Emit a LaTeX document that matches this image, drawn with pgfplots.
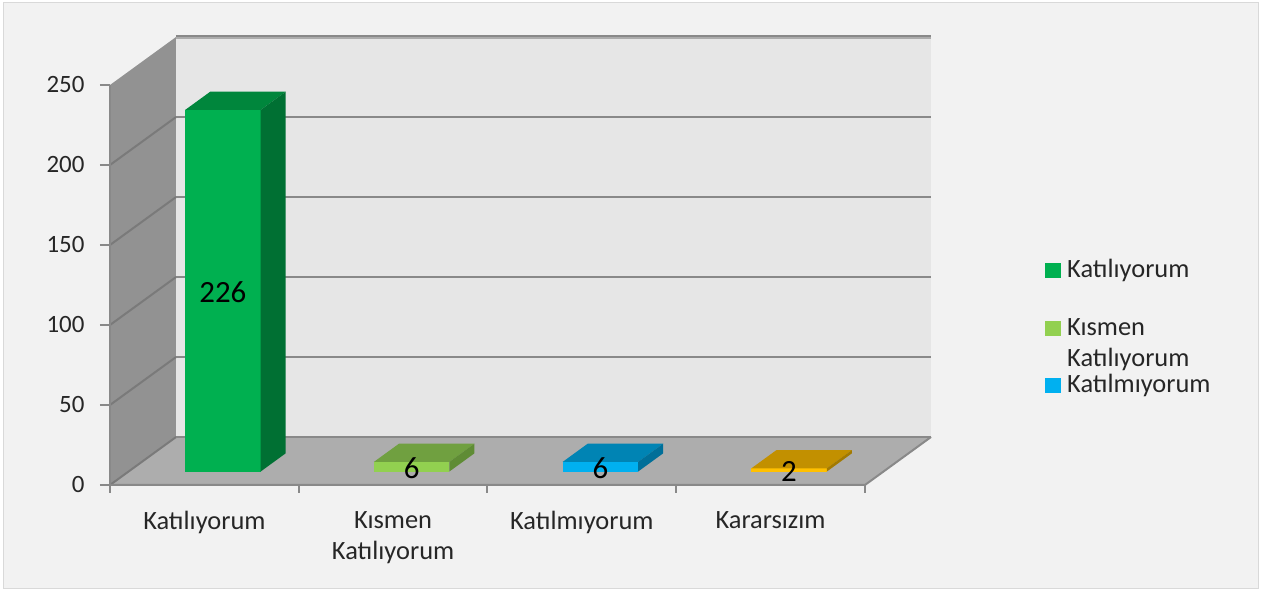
\documentclass[border=0pt]{standalone}
\usepackage{fontspec}
\setmainfont{Carlito}
\usepackage{pgfplots}
\usepackage{pgfplotstable}
\pgfplotsset{compat=1.18}

\definecolor{bgc}{HTML}{F2F2F2}
\definecolor{framec}{HTML}{D9D9D9}
\definecolor{backc}{HTML}{E6E6E6}
\definecolor{sidec}{HTML}{929292}
\definecolor{floorc}{HTML}{ADADAD}
\definecolor{gridc}{HTML}{898989}
\definecolor{sgridc}{HTML}{7A7A7A}
% bar colours: front / top / side
\definecolor{gA}{HTML}{00B050}\definecolor{gAt}{HTML}{00863C}\definecolor{gAs}{HTML}{007033}
\definecolor{gB}{HTML}{92D050}\definecolor{gBt}{HTML}{70A040}\definecolor{gBs}{HTML}{5F8C35}
\definecolor{gC}{HTML}{00B0F0}\definecolor{gCt}{HTML}{0084B4}\definecolor{gCs}{HTML}{006F99}
\definecolor{gD}{HTML}{FFC000}\definecolor{gDt}{HTML}{C29000}\definecolor{gDs}{HTML}{A37A00}

\newcommand\tf{\fontsize{26.5}{31}\selectfont}
\newcommand\yf{\fontsize{25}{30}\selectfont}

% one 3D bar: centre, value, front, top, side colour
\newcommand\cube[5]{%
  \pgfmathsetmacro\xl{#1-0.2+0.098}\pgfmathsetmacro\xr{#1+0.2+0.098}%
  \pgfmathsetmacro\xL{#1-0.2+0.231}\pgfmathsetmacro\xR{#1+0.2+0.231}%
  \pgfmathsetmacro\yt{#2+8.4}\pgfmathsetmacro\yT{#2+19.8}%
  \edef\tmp{%
    \noexpand\addplot[fill=#3,draw=none] coordinates {(\xl,8.4) (\xr,8.4) (\xr,\yt) (\xl,\yt)} -- cycle;
    \noexpand\addplot[fill=#4,draw=none] coordinates {(\xl,\yt) (\xr,\yt) (\xR,\yT) (\xL,\yT)} -- cycle;
    \noexpand\addplot[fill=#5,draw=none] coordinates {(\xr,8.4) (\xR,19.8) (\xR,\yT) (\xr,\yt)} -- cycle;
  }\tmp
}

\pgfplotstableread{
x v
0.5 226
1.5 6
2.5 6
3.5 2
}\data

\begin{document}
\begin{tikzpicture}
\fill[white] (0,0) rectangle (1261bp,592bp);
\fill[bgc,draw=framec,line width=1bp] (3bp,3bp) rectangle (1258bp,589bp);
\begin{axis}[
  at={(110bp,107bp)}, anchor=south west,
  width=821bp, height=448bp, scale only axis,
  xmin=0, xmax=4.35, ymin=0, ymax=280,
  clip=false,
  axis x line*=bottom, axis y line*=left,
  axis line style={draw=none},
  tick align=outside,
  ytick={0,50,...,250},
  xtick={0.5,1.5,2.5,3.5},
  xticklabels={Katılıyorum,{Kısmen\\Katılıyorum},Katılmıyorum,Kararsızım},
  minor xtick={0,1,2,3,4},
  major tick length=10bp, minor tick length=8bp,
  major x tick style={draw=none},
  minor x tick style={draw=gridc,line width=2bp},
  major y tick style={draw=gridc,line width=2bp},
  xticklabel style={font=\tf,align=center,text=black!85,yshift=-13bp},
  yticklabel style={font=\yf,text=black!85,xshift=-12bp},
  /pgf/number format/assume math mode=true,
]
% walls and floor
\addplot[fill=sidec,draw=none] coordinates {(0,0) (0,250) (0.35,280) (0.35,30)} -- cycle;
\addplot[fill=backc,draw=none] coordinates {(0.35,30) (4.35,30) (4.35,280) (0.35,280)} -- cycle;
\addplot[fill=floorc,draw=none] coordinates {(0,0) (4,0) (4.35,30) (0.35,30)} -- cycle;
% grid lines
\addplot[sgridc,line width=2bp] coordinates {(0,0) (0.35,30)};
\addplot[sgridc,line width=2bp] coordinates {(0,50) (0.35,80)};
\addplot[sgridc,line width=2bp] coordinates {(0,100) (0.35,130)};
\addplot[sgridc,line width=2bp] coordinates {(0,150) (0.35,180)};
\addplot[sgridc,line width=2bp] coordinates {(0,200) (0.35,230)};
\addplot[gridc,line width=2bp] coordinates {(0.35,30) (4.35,30)};
\addplot[gridc,line width=2bp] coordinates {(0.35,80) (4.35,80)};
\addplot[gridc,line width=2bp] coordinates {(0.35,130) (4.35,130)};
\addplot[gridc,line width=2bp] coordinates {(0.35,180) (4.35,180)};
\addplot[gridc,line width=2bp] coordinates {(0.35,230) (4.35,230)};
\addplot[gridc!70,line width=4bp] coordinates {(0.35,280) (4.35,280)};
\addplot[gridc,line width=2bp] coordinates {(0.35,280.6) (4.35,280.6)};
\addplot[gridc,line width=1.5bp] coordinates {(0,0) (0,250)};
\addplot[gridc,line width=2bp] coordinates {(0,0) (4,0) (4.35,30)};
% bars
\cube{0.5}{226}{gA}{gAt}{gAs}
\cube{1.5}{6}{gB}{gBt}{gBs}
\cube{2.5}{6}{gC}{gCt}{gCs}
\cube{3.5}{2}{gD}{gDt}{gDs}
% value labels
\addplot[draw=none,nodes near coords,point meta=\thisrow{v},
  nodes near coords align={center},
  every node near coord/.style={font=\fontsize{31}{36}\selectfont,text=black}]
  table[x expr=\thisrow{x}+0.098, y expr=\thisrow{v}/2+7.4] {\data};
\end{axis}
% legend
\fill[gA] (1045bp,314bp) rectangle (1061bp,329bp);
\fill[gB] (1045bp,256bp) rectangle (1061bp,271bp);
\fill[gC] (1045bp,199bp) rectangle (1061bp,214bp);
\node[font=\tf,anchor=base west,inner sep=0pt,text=black!85] at (1067bp,314bp) {Katılıyorum};
\node[font=\tf,anchor=base west,inner sep=0pt,text=black!85] at (1067bp,256bp) {Kısmen};
\node[font=\tf,anchor=base west,inner sep=0pt,text=black!85] at (1067bp,225bp) {Katılıyorum};
\node[font=\tf,anchor=base west,inner sep=0pt,text=black!85] at (1067bp,199bp) {Katılmıyorum};
\end{tikzpicture}
\end{document}
